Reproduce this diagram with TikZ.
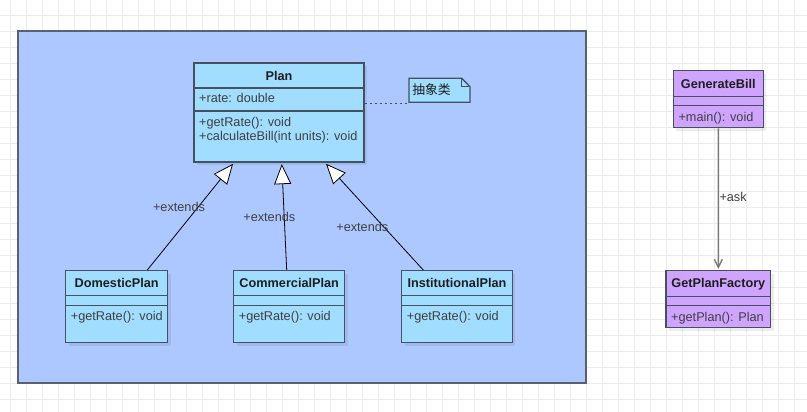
\documentclass[tikz,border=0pt]{standalone}
\usepackage{fontspec}
\setmainfont{Liberation Sans}
\newfontfamily\cjkfont{Noto Sans CJK SC}
\usetikzlibrary{arrows.meta,positioning,shadows}

\definecolor{gridline}{HTML}{ECECEC}
\definecolor{panelblue}{HTML}{ADC8FF}
\definecolor{panelborder}{HTML}{5A6070}
\definecolor{classblue}{HTML}{A0DDFF}
\definecolor{classpurple}{HTML}{CFA4FF}
\definecolor{umlborder}{HTML}{46505E}
\definecolor{umltext}{HTML}{1E1E1E}
\definecolor{asklink}{HTML}{7A7A7A}

\tikzset{
  umlbox/.style={draw=umlborder, line width=1.3pt, inner sep=0pt, fill=classblue,
    drop shadow={shadow xshift=3pt, shadow yshift=-3pt, opacity=0.07, fill=black}},
  umlline/.style={draw=umlborder, line width=1.3pt},
  umltitle/.style={font=\bfseries\fontsize{12.7}{14.3}\selectfont, text=umltext, inner sep=0pt, anchor=base},
  umlmember/.style={font=\fontsize{12.7}{14.3}\selectfont, text=umltext!85!white, inner sep=0pt, anchor=base west},
  edgelabel/.style={font=\fontsize{12.7}{14.3}\selectfont, text=umltext!85!white, inner sep=0pt, anchor=base},
  extends/.style={-{Triangle[length=20pt, width=17pt, fill=white]}, line width=0.8pt, shorten >=1.5pt},
  asks/.style={-{Straight Barb[length=8pt, width=8pt]}, draw=asklink, line width=1.4pt, shorten >=1.2pt},
  notelink/.style={draw=umlborder, line width=1.3pt, dash pattern=on 2.5pt off 2.5pt},
}

\begin{document}
\begin{tikzpicture}[x=1pt, y=-1pt, line join=miter, >=stealth]
\useasboundingbox (0,0) rectangle (807,412);
% grid
\fill[white] (0,0) rectangle (807,412);
\foreach \gx in {10.5,26.5,...,807} \draw[gridline, line width=0.9pt] (\gx,0) -- (\gx,412);
\foreach \gy in {15.3,31.3,...,412} \draw[gridline, line width=0.9pt] (0,\gy) -- (807,\gy);

% container
\draw[fill=panelblue, draw=panelborder, line width=1.5pt] (18,31) rectangle (586,383);

% Plan
\node[umlbox, minimum width=170, minimum height=99] (plan) at (279,112.5) {};
\draw[umlline] (plan.west |- 0,88) -- (plan.east |- 0,88);
\draw[umlline] (plan.west |- 0,111) -- (plan.east |- 0,111);
\node[umltitle] (plan-title) at (279,80.2) {Plan};
\node[umlmember] (plan-attr) at (199,102.8) {+rate: double};
\node[umlmember] (plan-op1) at (199,126.2) {+getRate(): void};
\node[umlmember] (plan-op2) at (199,140.5) {+calculateBill(int units): void};

% note
\fill[classblue] (409,78.3) -- (461.7,78.3) -- (470,86.7) -- (470,102.3) -- (409,102.3) -- cycle;
\draw[umlline] (409,78.3) -- (461.7,78.3) -- (470,86.7) -- (470,102.3) -- (409,102.3) -- cycle;
\draw[umlline, line width=1pt] (461.7,78.3) -- (461.7,86.7) -- (470,86.7);
\node[inner sep=0pt, font=\cjkfont\fontsize{12.8}{14}\selectfont, text=umltext] (note) at (431.5,90) {抽象类};
\coordinate (notecorner) at (409,103.3);
\draw[notelink] (plan.east |- notecorner) -- (notecorner);

% subclasses
\foreach \n/\cx/\w/\title in {domestic/116.7/102/DomesticPlan, commercial/289.2/111/CommercialPlan, institutional/457/110.6/InstitutionalPlan}{
  \node[umlbox, minimum width=\w, minimum height=72] (\n) at (\cx,306.7) {};
  \draw[umlline] (\n.west |- 0,295.7) -- (\n.east |- 0,295.7);
  \draw[umlline] (\n.west |- 0,305.7) -- (\n.east |- 0,305.7);
  \node[umltitle] (\n-title) at (\cx,287.8) {\title};
  \node[umlmember] (\n-op) at (\cx-\w/2+5,320.5) {+getRate(): void};
}

% generalisation
\draw[extends] ([xshift=30.6]domestic.north) -- ([xshift=-45]plan.south);
\draw[extends] ([xshift=-2.5]commercial.north) -- ([xshift=2.7]plan.south);
\draw[extends] ([xshift=-33.7]institutional.north) -- ([xshift=46]plan.south);
\node[edgelabel] (ext-domestic) at (179,211.2) {+extends};
\node[edgelabel] (ext-commercial) at (269.3,221.2) {+extends};
\node[edgelabel] (ext-institutional) at (362.3,231.2) {+extends};

% GenerateBill / GetPlanFactory
\node[umlbox, fill=classpurple, minimum width=90, minimum height=57] (generate) at (718.3,99.2) {};
\draw[umlline] (generate.west |- 0,96.7) -- (generate.east |- 0,96.7);
\draw[umlline] (generate.west |- 0,105.7) -- (generate.east |- 0,105.7);
\node[umltitle] (generate-title) at (718.3,88.5) {GenerateBill};
\node[umlmember] (generate-op) at (678.3,121.2) {+main(): void};

\node[umlbox, fill=classpurple, minimum width=104.7, minimum height=57] (factory) at (718.35,299.2) {};
\draw[umlline] (factory.west |- 0,296.7) -- (factory.east |- 0,296.7);
\draw[umlline] (factory.west |- 0,305.7) -- (factory.east |- 0,305.7);
\node[umltitle] (factory-title) at (718.35,287.8) {GetPlanFactory};
\node[umlmember] (factory-op) at (671,321.2) {+getPlan(): Plan};

\draw[asks] (generate.south) -- (factory.north);
\node[edgelabel, anchor=base west] (ask) at (719.3,201.8) {+ask};
\end{tikzpicture}
\end{document}
